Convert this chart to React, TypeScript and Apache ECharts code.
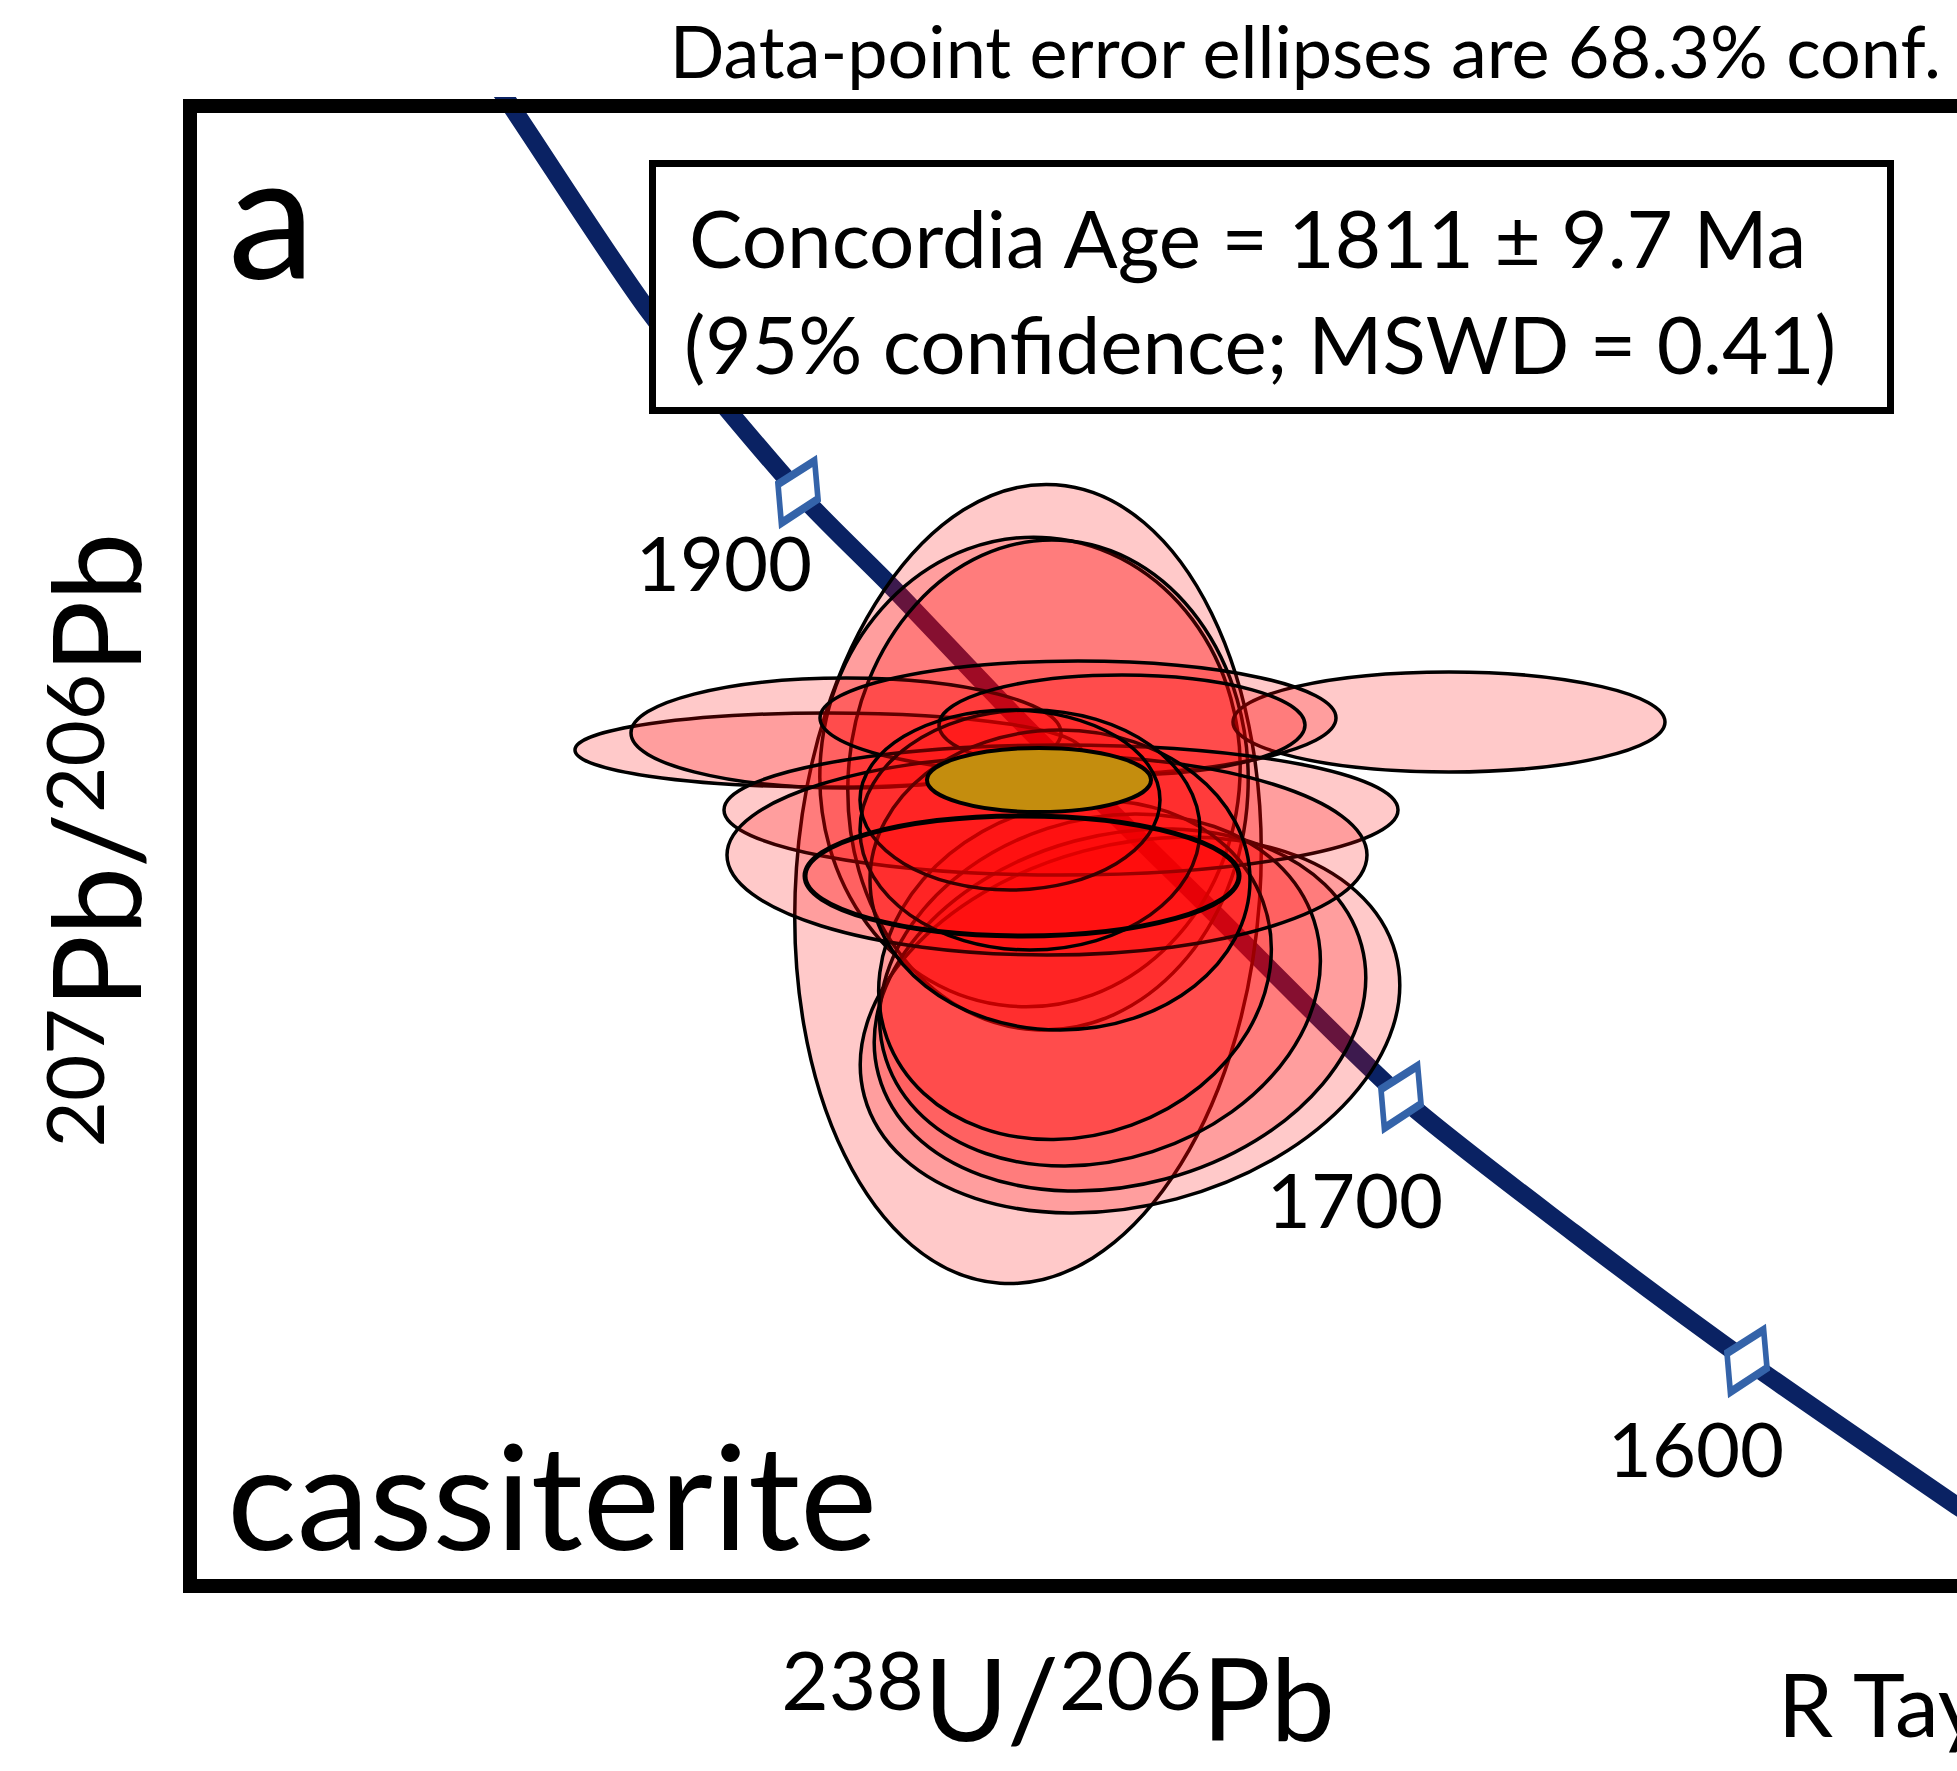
import React, { useEffect, useRef } from "react";
import * as echarts from "echarts";

const FONT = "Lato, 'Open Sans', sans-serif";

// Axis ranges (238U/206Pb and 207Pb/206Pb)
const xRange = [2.5, 3.678];
const yRange = [0.0944, 0.124];

// Concordia curve
const concordiaX = [2.69267, 2.714, 2.80667, 2.90533, 2.968, 3.05467, 3.17333, 3.30733, 3.42267, 3.538, 3.678, 3.70667];
const concordiaY = [0.12492, 0.124, 0.11986, 0.11628, 0.11438, 0.11166, 0.10814, 0.10418, 0.10146, 0.0989, 0.096, 0.09542];

// Age markers on the concordia (Ma)
const markerAges = ["1900", "1700", "1600"];
const markerX = [2.90533, 3.30733, 3.538];
const markerY = [0.11628, 0.10418, 0.0989];

// Data-point error ellipses: centre, semi-axes (ratio units), tilt (deg)
const ellipseX = [3.05867, 3.06, 3.072, 3.12667, 3.12, 3.10667, 3.09, 2.92533, 2.93733, 3.33933, 3.092, 3.12133, 3.08067, 3.07133, 3.08, 3.06, 3.04667];
const ellipseY = [0.10844, 0.11068, 0.11042, 0.10562, 0.10592, 0.10632, 0.10672, 0.11112, 0.11146, 0.11168, 0.11176, 0.11162, 0.10992, 0.10902, 0.10852, 0.10952, 0.11012];
const ellipseA = [0.15467, 0.14, 0.13333, 0.18333, 0.16667, 0.15, 0.13333, 0.16867, 0.14333, 0.144, 0.172, 0.122, 0.22467, 0.21333, 0.12667, 0.11333, 0.1];
const ellipseB = [0.008, 0.0047, 0.0049, 0.0036, 0.0035, 0.0034, 0.0033, 0.00074, 0.0011, 0.001, 0.00114, 0.001, 0.0013, 0.002, 0.003, 0.0024, 0.0018];
const ellipseTilt = [-4, -5, -3, 15, 15, 18, 20, 0, 0, 0, 0, 0, 0, 0, 0, 0, 0];

// Highlighted data-point ellipse (thicker outline)
const boldX = [3.05467];
const boldY = [0.1086];
const boldA = [0.14467];
const boldB = [0.0012];

// Concordia age ellipse (1811 Ma)
const ageX = [3.066];
const ageY = [0.11052];
const ageA = [0.07467];
const ageB = [0.00064];

function ellipseRenderer(fill: string, stroke: string, lineWidth: number) {
  return (params: any, api: any) => {
    const c = api.coord([api.value(0), api.value(1)]);
    const s = api.size([api.value(2), api.value(3)]);
    return {
      type: "ellipse",
      x: c[0],
      y: c[1],
      rotation: ((api.value(4) || 0) * Math.PI) / 180,
      shape: { cx: 0, cy: 0, rx: s[0], ry: s[1] },
      style: { fill, stroke, lineWidth },
    };
  };
}

export default function App() {
  const ref = useRef<HTMLDivElement>(null);

  useEffect(() => {
    if (!ref.current) return;
    const chart = echarts.init(ref.current, undefined, { renderer: "svg" });

    const ellipses = ellipseX.map((x, i) => [x, ellipseY[i], ellipseA[i], ellipseB[i], ellipseTilt[i]]);
    const bold = boldX.map((x, i) => [x, boldY[i], boldA[i], boldB[i], 0]);
    const age = ageX.map((x, i) => [x, ageY[i], ageA[i], ageB[i], 0]);
    const labelOffsets = [
      [-74, 69],
      [-46, 101],
      [-51, 86],
    ];

    chart.setOption({
      animation: false,
      backgroundColor: "#ffffff",
      grid: {
        left: 190,
        top: 106,
        right: 0,
        bottom: 185,
        show: false,
      },
      xAxis: {
        type: "value",
        min: xRange[0],
        max: xRange[1],
        show: false,
      },
      yAxis: {
        type: "value",
        min: yRange[0],
        max: yRange[1],
        show: false,
      },
      series: [
        {
          type: "line",
          z: 1,
          data: concordiaX.map((x, i) => [x, concordiaY[i]]),
          showSymbol: false,
          smooth: 0.25,
          clip: true,
          lineStyle: { color: "#0a2263", width: 18 },
          silent: true,
        },
        {
          type: "custom",
          z: 2,
          data: ellipses,
          renderItem: ellipseRenderer("rgba(255,0,0,0.21)", "#000", 3.5),
          encode: { x: 0, y: 1 },
          silent: true,
        },
        {
          type: "custom",
          z: 2,
          data: bold,
          renderItem: ellipseRenderer("rgba(255,0,0,0.21)", "#000", 5),
          encode: { x: 0, y: 1 },
          silent: true,
        },
        {
          type: "custom",
          z: 2,
          data: age,
          renderItem: ellipseRenderer("#c48d0e", "#000", 4),
          encode: { x: 0, y: 1 },
          silent: true,
        },
        {
          type: "scatter",
          z: 3,
          data: markerX.map((x, i) => ({
            value: [x, markerY[i]],
            name: markerAges[i],
            label: { offset: labelOffsets[i] },
          })),
          symbol: "path://M20 -36 L24 8 L-20 36 L-24 -9 Z",
          symbolSize: [40, 62],
          itemStyle: { color: "#ffffff", borderColor: "#3463a9", borderWidth: 7, opacity: 1 },
          label: {
            show: true,
            position: "inside",
            formatter: "{b}",
            fontSize: 76,
            fontFamily: FONT,
            color: "#000",
            opacity: 1,
          },
          silent: true,
        },
      ],
      graphic: [
        {
          type: "polyline",
          z: 50,
          shape: {
            points: [
              [1975, 106],
              [190, 106],
              [190, 1586],
              [1975, 1586],
            ],
          },
          style: { stroke: "#000", lineWidth: 14, fill: "none", lineJoin: "miter" },
        },
        {
          type: "text",
          z: 100,
          x: 1941,
          y: 50,
          style: {
            text: "Data-point error ellipses are 68.3% conf.",
            fontSize: 72,
            fontFamily: FONT,
            fill: "#000",
            align: "right",
            verticalAlign: "middle",
          },
        },
        {
          type: "rect",
          z: 100,
          shape: { x: 652.5, y: 163.5, width: 1238, height: 247 },
          style: { fill: "#fff", stroke: "#000", lineWidth: 7 },
        },
        {
          type: "text",
          z: 101,
          x: 689,
          y: 237,
          style: {
            text: "Concordia Age = 1811 ± 9.7 Ma",
            fontSize: 80,
            fontFamily: FONT,
            fill: "#000",
            align: "left",
            verticalAlign: "middle",
          },
        },
        {
          type: "text",
          z: 101,
          x: 684,
          y: 343,
          style: {
            text: "(95% confidence; MSWD = 0.41)",
            fontSize: 80,
            fontFamily: FONT,
            fill: "#000",
            align: "left",
            verticalAlign: "middle",
          },
        },
        {
          type: "text",
          z: 100,
          x: 228,
          y: 211,
          style: {
            text: "a",
            fontSize: 175,
            fontFamily: FONT,
            fill: "#000",
            align: "left",
            verticalAlign: "middle",
          },
        },
        {
          type: "text",
          z: 100,
          x: 227,
          y: 1493,
          style: {
            text: "cassiterite",
            fontSize: 146,
            fontFamily: FONT,
            fill: "#000",
            align: "left",
            verticalAlign: "middle",
          },
        },
        {
          type: "text",
          z: 100,
          x: 94,
          y: 840,
          rotation: Math.PI / 2,
          style: {
            text: "{s|207}{b|Pb/}{s|206}{b|Pb}",
            align: "center",
            verticalAlign: "middle",
            fill: "#000",
            rich: {
              s: { fontSize: 80, fontFamily: FONT, verticalAlign: "top", fill: "#000" },
              b: { fontSize: 122, fontFamily: FONT, fill: "#000" },
            },
          },
        },
        {
          type: "text",
          z: 100,
          x: 1058,
          y: 1696,
          style: {
            text: "{s|238}{b|U/}{s|206}{b|Pb}",
            align: "center",
            verticalAlign: "middle",
            fill: "#000",
            rich: {
              s: { fontSize: 82, lineHeight: 96, padding: [0, 0, 36, 0], fontFamily: FONT, fill: "#000" },
              b: { fontSize: 115, lineHeight: 96, fontFamily: FONT, fill: "#000" },
            },
          },
        },
        {
          type: "text",
          z: 100,
          x: 1778,
          y: 1703,
          style: {
            text: "R Taylor",
            fontSize: 88,
            fontFamily: FONT,
            fill: "#000",
            align: "left",
            verticalAlign: "middle",
          },
        },
      ],
    });

    return () => chart.dispose();
  }, []);

  return (
    <div
      ref={ref}
      style={{ position: "absolute", left: 0, top: 0, width: 1957, height: 1771, background: "#fff" }}
    />
  );
}
